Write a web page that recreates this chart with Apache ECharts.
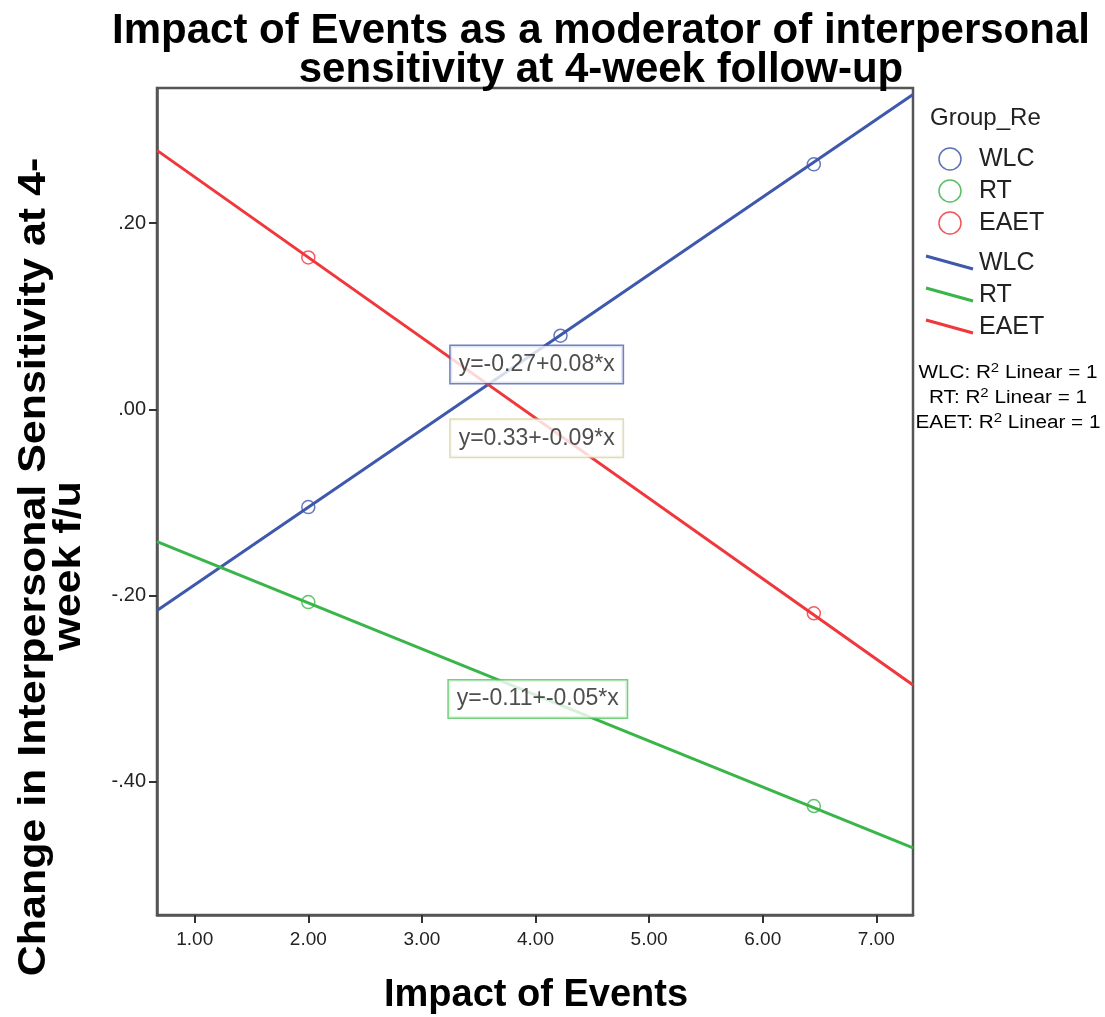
<!DOCTYPE html>
<html>
<head>
<meta charset="utf-8">
<script src="https://cdn.jsdelivr.net/npm/echarts@6/dist/echarts.min.js"></script>
<style>
html,body{margin:0;padding:0;background:#fff;}
#c{width:1105px;height:1017px;}
</style>
</head>
<body>
<div id="c"></div>
<script>
// ---- data ----
var groups = ['WLC', 'RT', 'EAET'];
var xTicks = [1, 2, 3, 4, 5, 6, 7];
var yTicks = [-0.4, -0.2, 0, 0.2];
var xRange = [0.668, 7.323];
var yRange = [-0.543, 0.345];

var wlcX = [2.0, 4.22, 6.45];
var wlcY = [-0.105, 0.079, 0.263];
var rtX = [2.0, 6.45];
var rtY = [-0.207, -0.426];
var eaetX = [2.0, 6.45];
var eaetY = [0.163, -0.219];

// fit-line values at the left and right edges of the plot
var fitX = [0.668, 7.323];
var wlcFit = [-0.216, 0.338];
var rtFit = [-0.142, -0.471];
var eaetFit = [0.278, -0.296];

var eqTexts = ['y=-0.27+0.08*x', 'y=-0.11+-0.05*x', 'y=0.33+-0.09*x'];
var eqPosX = [4.01, 4.02, 4.01];
var eqPosY = [0.048, -0.311, -0.031];

var colors = ['#3e58ac', '#3ab54a', '#f0373b'];
var boxBorders = ['#4a62b6', '#52c45e', '#d8d3a3'];

function zip(xs, ys) { return xs.map(function (x, i) { return [x, ys[i]]; }); }
function fmtY(v) {
  var s = Math.abs(v).toFixed(2).replace(/^0/, '');
  return (v < 0 ? '-' : '') + s;
}

var chart = echarts.init(document.getElementById('c'), null, {renderer: 'canvas'});

var ptsX = [wlcX, rtX, eaetX];
var ptsY = [wlcY, rtY, eaetY];
var fits = [wlcFit, rtFit, eaetFit];

var series = [];
groups.forEach(function (g, i) {
  series.push({
    name: g + ' fit', type: 'line', data: zip(fitX, fits[i]),
    symbol: 'none', lineStyle: {color: colors[i], width: 3}, z: 2, silent: true
  });
});
groups.forEach(function (g, i) {
  series.push({
    name: g, type: 'scatter', data: zip(ptsX[i], ptsY[i]),
    symbol: 'circle', symbolSize: 13,
    itemStyle: {color: 'transparent', borderColor: colors[i], borderWidth: 1.5, opacity: 0.8},
    z: 3, silent: true
  });
});
groups.forEach(function (g, i) {
  series.push({
    name: g + ' eq', type: 'scatter', data: [[eqPosX[i], eqPosY[i]]],
    symbolSize: 1, itemStyle: {color: 'transparent'}, z: 10, silent: true,
    label: {
      show: true, position: 'inside', formatter: eqTexts[i],
      fontFamily: 'Liberation Sans', fontSize: 23, color: '#222',
      backgroundColor: '#fff', borderColor: boxBorders[i], borderWidth: 1.5,
      padding: [8, 8, 6, 8]
    }
  });
});

var legendG = [];
legendG.push({type: 'text', x: 930, y: 118, style: {text: 'Group_Re', font: '24px "Liberation Sans"', fill: '#222', textVerticalAlign: 'middle'}});
var rowY = [159, 191, 223];
groups.forEach(function (g, i) {
  legendG.push({type: 'circle', shape: {cx: 950, cy: rowY[i], r: 11}, style: {fill: 'none', stroke: colors[i], lineWidth: 1.5, opacity: 0.85}});
  legendG.push({type: 'text', x: 979, y: rowY[i], style: {text: g, font: '25px "Liberation Sans"', fill: '#222', textVerticalAlign: 'middle'}});
});
var lineRowY = [263, 295, 327];
groups.forEach(function (g, i) {
  legendG.push({type: 'line', shape: {x1: 926, y1: lineRowY[i] - 7, x2: 973, y2: lineRowY[i] + 6}, style: {stroke: colors[i], lineWidth: 3}});
  legendG.push({type: 'text', x: 979, y: lineRowY[i], style: {text: g, font: '25px "Liberation Sans"', fill: '#222', textVerticalAlign: 'middle'}});
});
var r2Y = [373, 398, 423];
groups.forEach(function (g, i) {
  legendG.push({type: 'text', x: 1008, y: r2Y[i], scaleX: 1.15, originX: 0, originY: 0, style: {
    text: '{a|' + g + ': R}{s|2}{a| Linear = 1}',
    rich: {a: {fontFamily: 'Liberation Sans', fontSize: 18, color: '#222'},
           s: {fontFamily: 'Liberation Sans', fontSize: 13, color: '#222', padding: [0, 0, 9, 0]}},
    textAlign: 'center', textVerticalAlign: 'middle'
  }});
});

var titleFont = 'bold 42px "Liberation Sans", Arial';
var yTitleFont = 'bold 38px "Liberation Sans", Arial';
var graphics = [
  {type: 'text', x: 601, y: 31, style: {text: 'Impact of Events as a moderator of interpersonal', font: titleFont, fill: '#000', textAlign: 'center', textVerticalAlign: 'middle'}},
  {type: 'text', x: 601, y: 70, style: {text: 'sensitivity at 4-week follow-up', font: titleFont, fill: '#000', textAlign: 'center', textVerticalAlign: 'middle'}},
  {type: 'text', x: 536, y: 996, style: {text: 'Impact of Events', font: 'bold 38px "Liberation Sans", Arial', fill: '#000', textAlign: 'center', textVerticalAlign: 'middle'}},
  {type: 'text', x: 35, y: 567, rotation: Math.PI / 2, scaleX: 1.13, originX: 0, originY: 0, style: {text: 'Change in Interpersonal Sensitivity at 4-', font: yTitleFont, fill: '#000', textAlign: 'center', textVerticalAlign: 'middle'}},
  {type: 'text', x: 70, y: 566, rotation: Math.PI / 2, scaleX: 1.13, originX: 0, originY: 0, style: {text: 'week f/u', font: yTitleFont, fill: '#000', textAlign: 'center', textVerticalAlign: 'middle'}}
].concat(legendG);

chart.setOption({
  animation: false,
  backgroundColor: '#fff',
  grid: {left: 157, right: 192, top: 88, bottom: 102, show: true, borderColor: '#555', borderWidth: 2.5, backgroundColor: 'transparent'},
  xAxis: {
    type: 'value', min: xRange[0], max: xRange[1],
    axisLine: {show: true, onZero: false, lineStyle: {color: '#555', width: 2.5}},
    axisTick: {show: true, length: 8, lineStyle: {color: '#333', width: 2}, customValues: xTicks},
    axisLabel: {customValues: xTicks, formatter: function (v) { return v.toFixed(2); }, fontFamily: 'Liberation Sans', fontSize: 19, color: '#222', margin: 15},
    splitLine: {show: false}
  },
  yAxis: {
    type: 'value', min: yRange[0], max: yRange[1],
    axisLine: {show: true, onZero: false, lineStyle: {color: '#555', width: 2.5}},
    axisTick: {show: true, length: 8, lineStyle: {color: '#333', width: 2}, customValues: yTicks},
    axisLabel: {customValues: yTicks, formatter: fmtY, fontFamily: 'Liberation Sans', fontSize: 20, color: '#222', margin: 11},
    splitLine: {show: false}
  },
  series: series,
  graphic: graphics
});
</script>
</body>
</html>
